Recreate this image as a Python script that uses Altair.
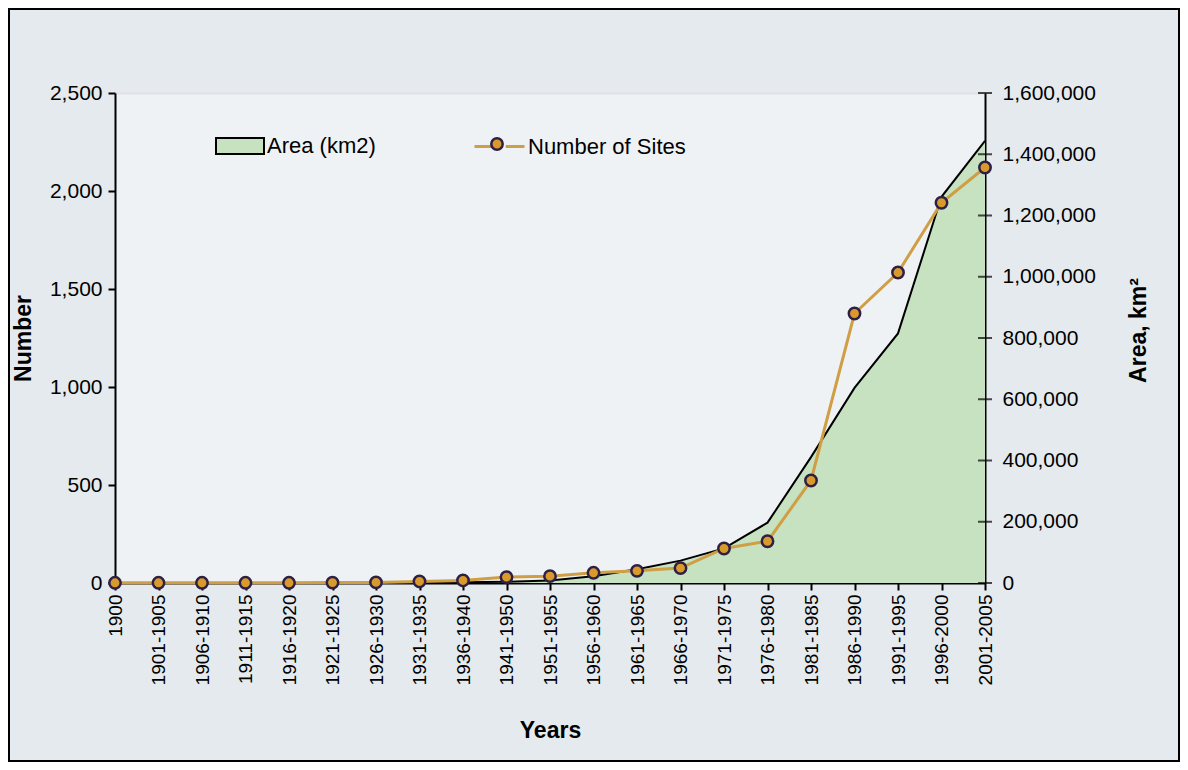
import altair as alt
import pandas as pd

categories = ["1900", "1901-1905", "1906-1910", "1911-1915", "1916-1920", "1921-1925",
              "1926-1930", "1931-1935", "1936-1940", "1941-1950", "1951-1955", "1956-1960",
              "1961-1965", "1966-1970", "1971-1975", "1976-1980", "1981-1985", "1986-1990",
              "1991-1995", "1996-2000", "2001-2005"]
sites = [1, 1, 1, 1, 1, 2, 3, 8, 13, 30, 35, 52, 62, 76, 176, 213, 523, 1375, 1584, 1940, 2120]
area_km2 = [0, 0, 0, 0, 0, 0, 500, 1500, 2500, 4000, 8000, 22000, 45000, 73000, 113000,
            197000, 411000, 637000, 815000, 1261000, 1444000]
left_ticks = [0, 500, 1000, 1500, 2000, 2500]
right_ticks = [0, 200000, 400000, 600000, 800000, 1000000, 1200000, 1400000, 1600000]

W, H = 870, 490
PL, PT, PR, PB = 107, 85, 195, 179

df = pd.DataFrame({
    "period": categories,
    "sites": sites,
    "area": area_km2,
    "s_area": "Area (km2)",
    "s_sites": "Number of Sites",
    "s_pts": "Number of Sites ",
})
ticks_df = pd.DataFrame({"tick": right_ticks})

x_enc = alt.X("period:N", sort=categories,
              scale=alt.Scale(type="point", padding=0),
              axis=alt.Axis(title="Years", labelAngle=270, labelFontSize=19, labelPadding=4,
                            tickSize=7, tickWidth=2, tickColor="black", domainColor="black",
                            domainWidth=2, titleFontSize=23, titleFontWeight="bold",
                            titleY=147, titleBaseline="middle", labelColor="black"))

left_axis = alt.Axis(values=left_ticks, format=",d", orient="left", title="Number",
                     labelFontSize=21, labelPadding=6, tickSize=7, tickWidth=2,
                     tickColor="black", domainColor="black", domainWidth=2,
                     titleFontSize=23, titleFontWeight="bold", titleAngle=270,
                     titleX=-92, titleY=245, titleBaseline="middle", titleAlign="center",
                     grid=True, gridColor="#dde1e5", gridWidth=2,
                     gridOpacity={"condition": {"test": "datum.value == 2500", "value": 0.9},
                                  "value": 0})
right_axis = alt.Axis(values=right_ticks, format=",d", orient="right", title="Area, km²",
                      labelFontSize=21, labelPadding=17, ticks=False,
                      domainColor="black", domainWidth=2,
                      titleFontSize=23, titleFontWeight="bold", titleAngle=270,
                      titleX=153, titleY=237, titleBaseline="middle", titleAlign="center",
                      grid=False)

y_left = alt.Y("sites:Q", scale=alt.Scale(domain=[0, 2500], nice=False), axis=left_axis)
y_right = alt.Y("area:Q", scale=alt.Scale(domain=[0, 1600000], nice=False), axis=right_axis)
y_ticks = alt.Y("tick:Q", scale=alt.Scale(domain=[0, 1600000], nice=False), axis=right_axis)

frame = alt.Chart(alt.Data(values=[{}])).mark_rect(
    fillOpacity=0, stroke="black", strokeWidth=2
).encode(x=alt.value(-PL + 1), x2=alt.value(W + PR - 1),
         y=alt.value(-PT + 1), y2=alt.value(H + PB - 1))

area = alt.Chart(df).mark_area(opacity=1).encode(
    x=x_enc, y=y_right,
    fill=alt.Fill("s_area:N", scale=alt.Scale(domain=["Area (km2)"], range=["#c6e2c1"]),
                  legend=alt.Legend(orient="none", legendX=108, legendY=36, title=None, padding=0,
                                    symbolType="M-1.5,-0.5H1.5V0.5H-1.5Z", symbolSize=1024,
                                    symbolStrokeColor="black", symbolStrokeWidth=2,
                                    labelFontSize=22, labelOffset=10, labelColor="black"))
)
outline = alt.Chart(df).mark_line(color="black", strokeWidth=2).encode(x=x_enc, y=y_right)
rticks = alt.Chart(ticks_df).mark_tick(orient="horizontal", size=14, thickness=2, color="black").encode(
    x=alt.value(W), y=y_ticks)

right_group = alt.layer(area, outline, rticks)

line = alt.Chart(df).mark_line(strokeWidth=3).encode(
    x=x_enc, y=y_left,
    stroke=alt.Stroke("s_sites:N", scale=alt.Scale(domain=["Number of Sites"], range=["#cf9e45"]),
                      legend=alt.Legend(orient="none", legendX=358, legendY=27, title=None, padding=0,
                                        symbolType="M-1,0H-0.25M0.25,0H1", symbolSize=2500,
                                        symbolStrokeWidth=3, symbolFillColor="transparent",
                                        labelFontSize=22, labelOffset=2, labelColor="black"))
)
points = alt.Chart(df).mark_point(filled=False, size=130, shape="circle", fill="#d99a2c",
                                  fillOpacity=1, strokeWidth=2.5, opacity=1).encode(
    x=x_enc, y=y_left,
    stroke=alt.Stroke("s_pts:N", scale=alt.Scale(domain=["Number of Sites "], range=["#2e1f45"]),
                      legend=alt.Legend(orient="none", legendX=375, legendY=44, title=None, padding=0,
                                        symbolType="circle", symbolFillColor="#d99a2c",
                                        symbolStrokeWidth=2.5, symbolSize=130, symbolOpacity=1,
                                        labelExpr="''", labelFontSize=1))
)
left_group = alt.layer(line, points).resolve_scale(stroke="independent").resolve_legend(
    stroke="independent")

chart = alt.layer(right_group, left_group, frame).resolve_scale(
    y="independent"
).properties(
    width=W, height=H,
    autosize=alt.AutoSizeParams(type="none"),
    padding={"left": PL, "top": PT, "right": PR, "bottom": PB},
    background="#e5eaee",
).configure(
    font="Liberation Sans"
).configure_view(
    strokeWidth=0, fill="#eff2f5"
).configure_axis(
    labelColor="black", titleColor="black"
)

chart.save("out.html", embed_options={"renderer": "svg", "actions": False})
